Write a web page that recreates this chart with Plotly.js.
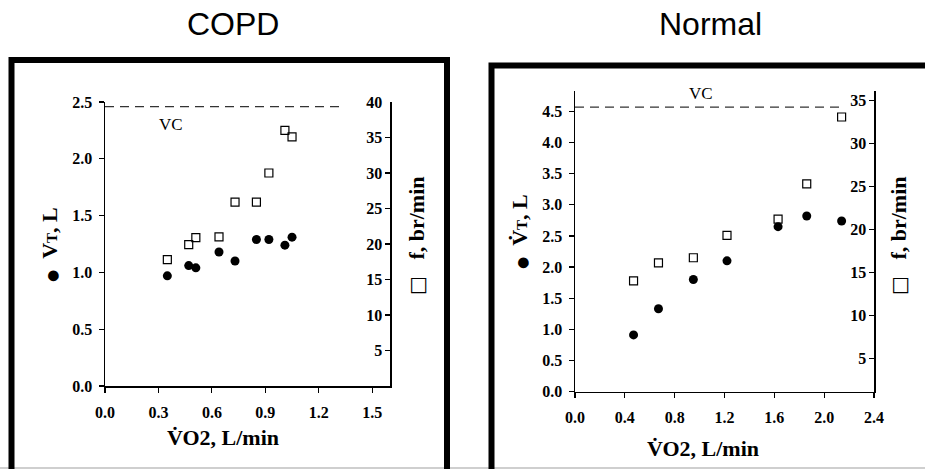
<!DOCTYPE html>
<html>
<head>
<meta charset="utf-8">
<script src="https://cdn.plot.ly/plotly-3.0.1.min.js"></script>
<style>html,body{margin:0;padding:0;background:#fff;}#chart{width:925px;height:469px;}</style>
</head>
<body>
<div id="chart"></div>
<script>
// ---- Data ----
var panelTitles = ["COPD", "Normal"];

var copdVO2 = [0.35, 0.47, 0.51, 0.64, 0.73, 0.85, 0.92, 1.01, 1.05];
var copdVT  = [0.97, 1.06, 1.04, 1.18, 1.10, 1.29, 1.29, 1.24, 1.31];
var copdF   = [17.8, 19.9, 20.9, 21.0, 25.9, 25.9, 30.0, 36.0, 35.1];
var copdVC  = 2.46;
var copdVCx = [0, 1.32];

var normalVO2 = [0.47, 0.67, 0.95, 1.22, 1.63, 1.86, 2.14];
var normalVT  = [0.91, 1.33, 1.80, 2.10, 2.65, 2.82, 2.74];
var normalF   = [14.0, 16.1, 16.7, 19.3, 21.2, 25.3, 33.1];
var normalVC  = 4.57;
var normalVCx = [0, 2.14];

var copdXTicks   = [0, 0.3, 0.6, 0.9, 1.2, 1.5];
var copdVTTicks  = [0, 0.5, 1.0, 1.5, 2.0, 2.5];
var copdFTicks   = [5, 10, 15, 20, 25, 30, 35, 40];
var normalXTicks  = [0, 0.4, 0.8, 1.2, 1.6, 2.0, 2.4];
var normalVTTicks = [0, 0.5, 1.0, 1.5, 2.0, 2.5, 3.0, 3.5, 4.0, 4.5];
var normalFTicks  = [5, 10, 15, 20, 25, 30, 35];

// ---- Styling ----
var W = 925, H = 469;
function px(x){ return x / W; }
function py(y){ return 1 - y / H; }
var SERIF = "Liberation Serif";
function tickFont(){ return {family: SERIF, size: 16, color: "#000", weight: 700}; }
function titleFont(){ return {family: SERIF, size: 22, color: "#000", weight: 700}; }
var dashStyle = {color: "#333", width: 1.2, dash: "9px,6px"};

function circles(x, y, xa, ya, sz){
  return {x: x, y: y, xaxis: xa, yaxis: ya, type: "scatter", mode: "markers",
    marker: {symbol: "circle", size: sz, color: "#000"}, showlegend: false, hoverinfo: "skip"};
}
function squares(x, y, xa, ya, sz){
  return {x: x, y: y, xaxis: xa, yaxis: ya, type: "scatter", mode: "markers",
    marker: {symbol: "square-open", size: sz, color: "#000", line: {width: 1.2, color: "#000"}}, showlegend: false, hoverinfo: "skip"};
}
function vcLine(xs, v, xa, ya){
  return {x: xs, y: [v, v], xaxis: xa, yaxis: ya, type: "scatter", mode: "lines",
    line: dashStyle, showlegend: false, hoverinfo: "skip"};
}

var data = [
  vcLine(copdVCx, copdVC, "x", "y"),
  circles(copdVO2, copdVT, "x", "y", 9),
  squares(copdVO2, copdF, "x", "y2", 8),
  vcLine(normalVCx, normalVC, "x2", "y3"),
  circles(normalVO2, normalVT, "x2", "y3", 9),
  squares(normalVO2, normalF, "x2", "y4", 8)
];

function xAx(dom, rng, ticks, anchor){
  return {domain: dom, range: rng, anchor: anchor, tickvals: ticks, ticktext: ticks.map(function(v){return v.toFixed(1);}),
    showline: true, linecolor: "#000", linewidth: 1.5, ticks: "outside", ticklen: 5, tickwidth: 1.2, tickcolor: "#000",
    ticklabelstandoff: 6, ticklabeloverflow: "allow", showgrid: false, zeroline: false, tickfont: tickFont(), fixedrange: true};
}
function yAxL(dom, rng, ticks, anchor){
  return {domain: dom, range: rng, anchor: anchor, tickvals: ticks, ticktext: ticks.map(function(v){return v.toFixed(1);}),
    showline: true, linecolor: "#000", linewidth: 1.5, ticks: "outside", ticklen: 5, tickwidth: 1.2, tickcolor: "#000",
    ticklabelstandoff: 3, ticklabeloverflow: "allow", showgrid: false, zeroline: false, tickfont: tickFont(), fixedrange: true};
}
function yAxR(rng, ticks, anchor, over){
  return {range: rng, anchor: anchor, overlaying: over, side: "right", tickvals: ticks,
    showline: true, linecolor: "#000", linewidth: 1.5, ticks: "inside", ticklen: 5, tickwidth: 1.2, tickcolor: "#000",
    ticklabelposition: "inside", ticklabelstandoff: 3, ticklabeloverflow: "allow",
    showgrid: false, zeroline: false, tickfont: tickFont(), fixedrange: true};
}

var copdXDom = [px(105), px(390)], copdYDom = [py(386), py(102)];
var normXDom = [px(575), px(874)], normYDom = [py(391.5), py(91)];

function ann(text, x, y, font, angle){
  var a = {text: text, xref: "paper", yref: "paper", x: px(x), y: py(y), showarrow: false,
    xanchor: "center", yanchor: "middle", font: font};
  if (angle !== undefined) a.textangle = angle;
  return a;
}

var SQ = "<span style='font-family:DejaVu Sans;font-weight:normal;font-size:20px'>\u25A1</span>";
var DOT = "<span style='font-family:DejaVu Sans;font-size:14px'>\u25CF</span>";

var layout = {
  width: W, height: H, margin: {l: 0, r: 0, t: 0, b: 0},
  paper_bgcolor: "#fff", plot_bgcolor: "rgba(0,0,0,0)",
  showlegend: false,
  xaxis: xAx(copdXDom, [0, 1.6], copdXTicks, "y"),
  yaxis: yAxL(copdYDom, [0, 2.5], copdVTTicks, "x"),
  yaxis2: yAxR([0, 40], copdFTicks, "x", "y"),
  xaxis2: xAx(normXDom, [0, 2.4], normalXTicks, "y3"),
  yaxis3: yAxL(normYDom, [0, 4.83], normalVTTicks, "x2"),
  yaxis4: yAxR([1.12, 36.13], normalFTicks, "x2", "y3"),
  shapes: [
    {type: "line", xref: "paper", yref: "paper", x0: 0, x1: 1, y0: py(468), y1: py(468), line: {color: "#cfcfcf", width: 2}},
    {type: "rect", xref: "paper", yref: "paper", x0: px(11.5), x1: px(447), y0: -0.1, y1: py(60), line: {color: "#000", width: 6}},
    {type: "rect", xref: "paper", yref: "paper", x0: px(491.5), x1: 1.1, y0: -0.1, y1: py(65.5), line: {color: "#000", width: 6}}
  ],
  annotations: [
    ann(panelTitles[0], 232.5, 24, {family: "Liberation Sans", size: 32, color: "#000"}),
    ann(panelTitles[1], 710, 24, {family: "Liberation Sans", size: 32, color: "#000"}),
    ann("VC", 171, 124, {family: SERIF, size: 17, color: "#000"}),
    ann("VC", 700.5, 93, {family: SERIF, size: 17, color: "#000"}),
    ann("V\u0307O2, L/min", 223, 437, titleFont()),
    ann("V\u0307O2, L/min", 703, 448, titleFont()),
    ann(DOT + "\u00A0\u00A0V<span style='font-size:15px'>T</span>, L", 50, 245, titleFont(), -90),
    ann(DOT + "\u00A0\u00A0V\u0307<span style='font-size:15px'>T</span>, L", 519, 232, titleFont(), -90),
    ann(SQ + "\u00A0\u00A0\u00A0f, br/min", 416, 236, titleFont(), -90),
    ann(SQ + "\u00A0\u00A0\u00A0f, br/min", 898, 236, titleFont(), -90)
  ]
};

Plotly.newPlot("chart", data, layout, {staticPlot: true, displayModeBar: false});
</script>
</body>
</html>
